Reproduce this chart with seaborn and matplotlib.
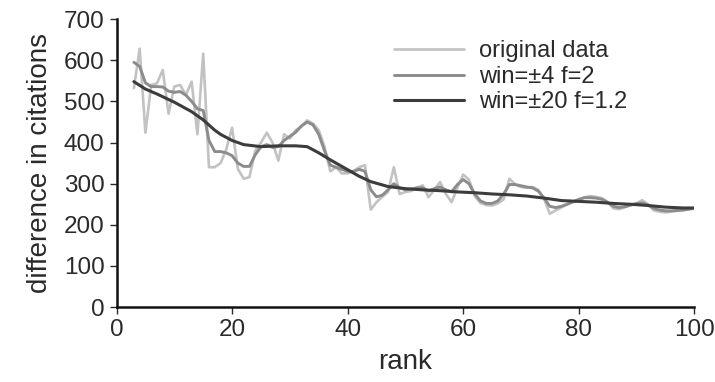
'''
Citation difference vs rank, raw data and two smoothed versions
Output: out.png
'''

import numpy as np
import pandas as pd
import seaborn as sns
import matplotlib.pyplot as plt

# data
rank = list(range(3, 101))

original = [
    532, 628, 424, 540, 544, 576, 470, 536, 540, 516,   # 3-12
    548, 420, 616, 340, 340, 350, 384, 436, 336, 312,   # 13-22
    316, 380, 400, 424, 400, 356, 420, 410, 430, 440,   # 23-32
    454, 446, 430, 390, 330, 340, 325, 325, 330, 340,   # 33-42
    345, 237, 255, 268, 280, 340, 275, 280, 282, 290,   # 43-52
    296, 267, 285, 304, 275, 255, 290, 322, 310, 270,   # 53-62
    253, 248, 247, 252, 262, 312, 298, 292, 290, 292,   # 63-72
    285, 263, 227, 235, 242, 250, 255, 260, 267, 270,   # 73-82
    268, 265, 255, 240, 238, 243, 248, 252, 260, 250,   # 83-92
    235, 232, 230, 232, 234, 235, 238, 240,             # 93-100
]

win4 = [
    595, 585, 545, 536, 536, 535, 525, 522, 524, 515,
    500, 482, 478, 405, 378, 378, 375, 368, 350, 342,
    342, 370, 390, 395, 388, 390, 405, 415, 425, 440,
    450, 443, 420, 380, 345, 340, 335, 330, 330, 335,
    330, 285, 268, 272, 285, 300, 290, 285, 287, 290,
    290, 282, 288, 292, 285, 280, 298, 310, 300, 275,
    258, 252, 252, 258, 275, 298, 298, 295, 292, 290,
    282, 265, 245, 242, 245, 250, 256, 262, 266, 266,
    265, 262, 255, 245, 242, 244, 248, 252, 253, 248,
    240, 236, 234, 234, 235, 236, 238, 240,
]

rank20 = [3, 5, 7, 10, 13, 15, 17, 18, 20, 22, 25, 28, 31, 33, 35, 37, 40,
          42, 44, 47, 50, 53, 56, 59, 62, 65, 68, 71, 74, 77, 80, 83, 86,
          89, 92, 95, 98, 100]
win20 = [548, 530, 518, 498, 475, 455, 430, 420, 405, 395, 390, 392, 392,
         390, 375, 358, 334, 318, 305, 293, 288, 285, 283, 280, 278, 275,
         273, 270, 265, 259, 257, 255, 252, 250, 247, 243, 241, 241]

labels = ['original data', 'win=\u00b14 f=2', 'win=\u00b120 f=1.2']
colors = ['#c2c2c2', '#8c8c8c', '#3c3c3c']

df_orig = pd.DataFrame({'rank': rank, 'diff': original})
df_w4 = pd.DataFrame({'rank': rank, 'diff': win4})
df_w20 = pd.DataFrame({'rank': rank20, 'diff': win20})

# plot settings
sns.set_theme(style="ticks")
plt.rcParams['font.family'] = ['Liberation Sans', 'DejaVu Sans']
plt.rcParams['text.color'] = '#2a2a2a'
plt.rcParams['axes.labelcolor'] = '#2a2a2a'
plt.rcParams['xtick.color'] = '#2a2a2a'
plt.rcParams['ytick.color'] = '#2a2a2a'

fig = plt.figure(figsize=(7.15, 3.82), dpi=100)
ax = fig.add_axes([0.163, 0.196, 0.808, 0.754])

sns.lineplot(data=df_orig, x='rank', y='diff', color=colors[0], linewidth=1.9,
             label=labels[0], ax=ax)
sns.lineplot(data=df_w4, x='rank', y='diff', color=colors[1], linewidth=2.1,
             label=labels[1], ax=ax)
sns.lineplot(data=df_w20, x='rank', y='diff', color=colors[2], linewidth=2.2,
             label=labels[2], ax=ax)

ax.set_xlim(0, 100)
ax.set_ylim(0, 700)
ax.set_xticks(np.arange(0, 101, 20))
ax.set_yticks(np.arange(0, 701, 100))
ax.tick_params(axis='both', labelsize=17.5, length=5, width=1, direction='out')
ax.set_xlabel('rank', fontsize=20, labelpad=6)
ax.set_ylabel('difference in citations', fontsize=20, labelpad=8)

sns.despine(ax=ax)
for side in ['left', 'bottom']:
    ax.spines[side].set_linewidth(1.8)
    ax.spines[side].set_color('#111111')

leg = ax.legend(loc='upper right', bbox_to_anchor=(0.92, 1.0), frameon=False,
                fontsize=17, handlelength=3.0, labelspacing=0.15,
                handletextpad=0.6)

plt.savefig('out.png', dpi=100)
plt.close()
